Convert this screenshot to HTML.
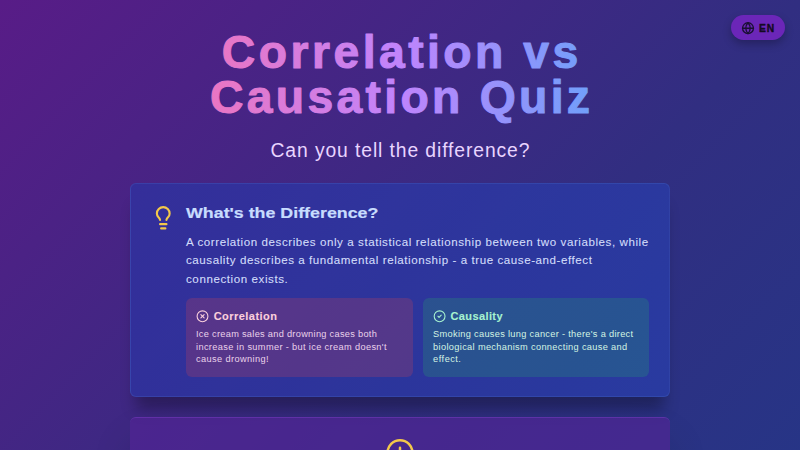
<!DOCTYPE html>
<html><head><meta charset="utf-8">
<style>
html,body{margin:0;padding:0;width:800px;height:450px;overflow:hidden}
body{background:linear-gradient(to bottom right,#581c87,#312e81,#1e3a8a) 0 0/800px 833px no-repeat;position:relative;font-family:"Liberation Sans",sans-serif}
.abs{position:absolute;box-sizing:border-box}
#en{left:731px;top:15.2px;width:54px;height:25.2px;border-radius:13px;background:#6b26b8;box-shadow:0 4px 8px rgba(0,0,0,.25)}
#card{left:130px;top:182.5px;width:540px;height:214.5px;border-radius:6px;background:linear-gradient(to right,rgba(40,54,168,.61),rgba(40,64,178,.61));border:1px solid rgba(96,165,250,.14);box-shadow:0 18px 14px -6px rgba(0,0,0,.3)}
#b1{left:186px;top:298px;width:226.5px;height:78.5px;border-radius:6px;background:rgba(239,68,68,.2)}
#b2{left:422.6px;top:298px;width:226.2px;height:78.5px;border-radius:6px;background:rgba(34,197,94,.2)}
#card2{left:130px;top:417.2px;width:540px;height:60px;border-radius:6px;background:rgba(84,36,150,.62);border-top:1px solid rgba(168,85,247,.25);box-shadow:0 23px 47px -11px rgba(0,0,0,.3)}
svg{position:absolute;left:0;top:0}
</style></head><body>
<div id="wrap" style="position:absolute;left:0;top:0;width:800px;height:450px;">
<div class="abs" id="en"></div>
<div class="abs" id="card"></div>
<div class="abs" id="b1"></div>
<div class="abs" id="b2"></div>
<div class="abs" id="card2"></div>
<svg width="800" height="450" viewBox="0 0 800 450" style="font-family:'Liberation Sans',sans-serif">
<defs>
<linearGradient id="tg" gradientUnits="userSpaceOnUse" x1="170" y1="0" x2="630" y2="0">
<stop offset="0" stop-color="#f472b6"/><stop offset="0.5" stop-color="#c084fc"/><stop offset="1" stop-color="#60a5fa"/>
</linearGradient>
</defs>
<text x="221.85" y="68" font-size="46.350" font-weight="700" fill="url(#tg)" text-anchor="start" textLength="356.31" lengthAdjust="spacing" stroke="url(#tg)" stroke-width="1.0" stroke-linejoin="round">Correlation vs</text>
<text x="209.98" y="112.7" font-size="46.350" font-weight="700" fill="url(#tg)" text-anchor="start" textLength="380.05" lengthAdjust="spacing" stroke="url(#tg)" stroke-width="1.0" stroke-linejoin="round">Causation Quiz</text>
<text x="270.54" y="156.8" font-size="19.312" font-weight="400" fill="#e9d5ff" text-anchor="start" textLength="258.92" lengthAdjust="spacing">Can you tell the difference?</text>
<text x="758.9" y="31.6" font-size="10.300" font-weight="700" fill="#140a22" text-anchor="start" textLength="15.2" lengthAdjust="spacing" stroke="#140a22" stroke-width="0.35" stroke-linejoin="round">EN</text>
<text x="186" y="218" font-size="15.000" font-weight="700" fill="#c8dcfe" text-anchor="start" textLength="192.44" lengthAdjust="spacingAndGlyphs" stroke="#c8dcfe" stroke-width="0.2" stroke-linejoin="round">What's the Difference?</text>
<text x="186" y="246.1" font-size="11.588" font-weight="400" fill="#d2dcfa" text-anchor="start" textLength="462.2" lengthAdjust="spacing" stroke="#d2dcfa" stroke-width="0.1" stroke-linejoin="round">A correlation describes only a statistical relationship between two variables, while</text>
<text x="186" y="264.38" font-size="11.588" font-weight="400" fill="#d2dcfa" text-anchor="start" textLength="405.91" lengthAdjust="spacing" stroke="#d2dcfa" stroke-width="0.1" stroke-linejoin="round">causality describes a fundamental relationship - a true cause-and-effect</text>
<text x="186" y="282.66" font-size="11.588" font-weight="400" fill="#d2dcfa" text-anchor="start" textLength="101.78" lengthAdjust="spacing" stroke="#d2dcfa" stroke-width="0.1" stroke-linejoin="round">connection exists.</text>
<text x="213.7" y="319.6" font-size="11.000" font-weight="700" fill="#fbd0dc" text-anchor="start" textLength="63.23" lengthAdjust="spacing" stroke="#fbd0dc" stroke-width="0.1" stroke-linejoin="round">Correlation</text>
<text x="450.45" y="319.6" font-size="11.000" font-weight="700" fill="#a7f3d0" text-anchor="start" textLength="52.06" lengthAdjust="spacing" stroke="#a7f3d0" stroke-width="0.1" stroke-linejoin="round">Causality</text>
<text x="196.0" y="337.4" font-size="9.231" font-weight="400" fill="#ead2ea" text-anchor="start" textLength="180.81" lengthAdjust="spacing">Ice cream sales and drowning cases both</text>
<text x="196.0" y="349.8" font-size="9.231" font-weight="400" fill="#ead2ea" text-anchor="start" textLength="190.5" lengthAdjust="spacing">increase in summer - but ice cream doesn&#39;t</text>
<text x="196.0" y="362.2" font-size="9.231" font-weight="400" fill="#ead2ea" text-anchor="start" textLength="72.5" lengthAdjust="spacing">cause drowning!</text>
<text x="433.1" y="337.4" font-size="9.231" font-weight="400" fill="#d4f4e4" text-anchor="start" textLength="199.95" lengthAdjust="spacing">Smoking causes lung cancer - there&#39;s a direct</text>
<text x="433.1" y="349.8" font-size="9.231" font-weight="400" fill="#d4f4e4" text-anchor="start" textLength="194.06" lengthAdjust="spacing">biological mechanism connecting cause and</text>
<text x="433.1" y="362.2" font-size="9.231" font-weight="400" fill="#d4f4e4" text-anchor="start" textLength="27.83" lengthAdjust="spacing">effect.</text>

<g transform="translate(150.5 205) scale(1.0625)" fill="none" stroke="#f4c84a" stroke-width="2" stroke-linecap="round" stroke-linejoin="round">
<path d="M15 14c.2-1 .7-1.7 1.5-2.5 1-.9 1.5-2.2 1.5-3.5A6 6 0 0 0 6 8c0 1 .2 2.2 1.5 3.5.7.7 1.3 1.5 1.5 2.5"/><path d="M9 18h6"/><path d="M10 22h4"/>
</g>
<g transform="translate(741.5 21.7) scale(0.5416666666666666)" fill="none" stroke="#1a1033" stroke-width="2.5" stroke-linecap="round" stroke-linejoin="round">
<circle cx="12" cy="12" r="10"/><path d="M12 2a14.5 14.5 0 0 0 0 20 14.5 14.5 0 0 0 0-20"/><path d="M2 12h20"/>
</g>
<g transform="translate(196 309.75) scale(0.5416666666666666)" fill="none" stroke="#fbd0dc" stroke-width="2" stroke-linecap="round" stroke-linejoin="round">
<circle cx="12" cy="12" r="10"/><path d="m15 9-6 6"/><path d="m9 9 6 6"/>
</g>
<g transform="translate(433.1 309.75) scale(0.5416666666666666)" fill="none" stroke="#a7f3d0" stroke-width="2" stroke-linecap="round" stroke-linejoin="round">
<circle cx="12" cy="12" r="10"/><path d="m9 12 2 2 4-4"/>
</g>
<g transform="translate(385 437.75) scale(1.25)" fill="none" stroke="#f4c84a" stroke-width="2" stroke-linecap="round" stroke-linejoin="round">
<circle cx="12" cy="12" r="10"/><line x1="12" x2="12" y1="8" y2="12"/><line x1="12" x2="12.01" y1="16" y2="16"/>
</g>
</svg>
</div>
</body></html>
